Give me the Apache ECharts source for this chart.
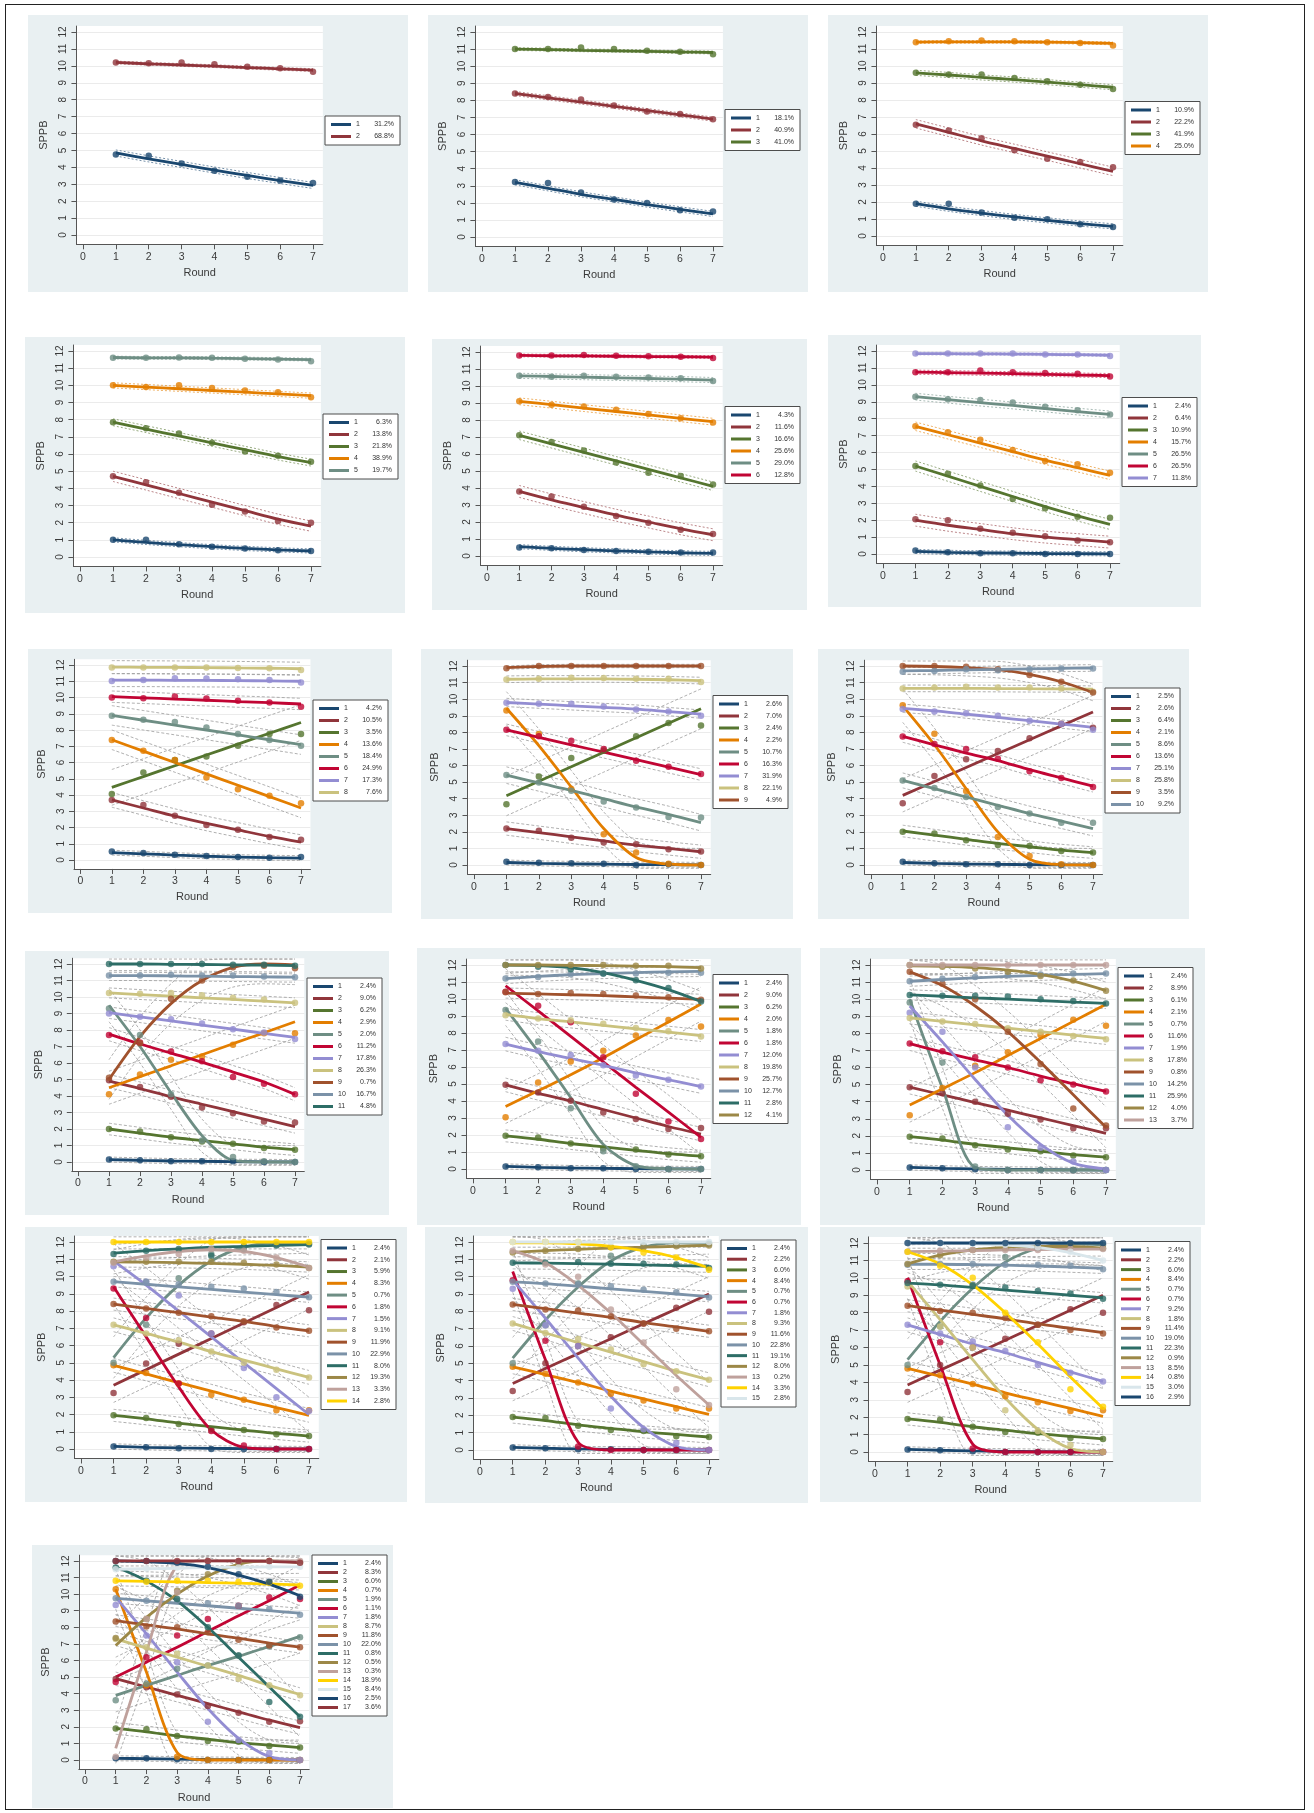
<!DOCTYPE html>
<html><head><meta charset="utf-8">
<script src="https://cdn.jsdelivr.net/npm/echarts@6/dist/echarts.min.js"></script>
<style>
html,body{margin:0;padding:0;background:#fff;}
#frame{position:absolute;left:5px;top:4px;width:1300px;height:1806px;border:1.5px solid #222;box-sizing:border-box;}
.p{position:absolute;}
</style></head><body>
<div id="frame"></div>
<script>
// ---------- data ----------
const rounds = [1,2,3,4,5,6,7];
const xTicks = [0,1,2,3,4,5,6,7];
const yTicks = [0,1,2,3,4,5,6,7,8,9,10,11,12];

const pct1 = ['31.2%','68.8%'];
const obs1 = [[4.76,4.68,4.23,3.8,3.45,3.22,3.08],[10.2,10.15,10.2,10.1,9.95,9.85,9.65]];
const fit1 = [[4.85,4.5,4.17,3.84,3.52,3.22,2.93],[10.2,10.12,10.05,9.98,9.9,9.82,9.75]];
const ci1 = [0.18,0.08];

const pct2 = ['18.1%','40.9%','41.0%'];
const obs2 = [[3.22,3.16,2.6,2.19,1.99,1.56,1.5],[8.4,8.2,8.05,7.7,7.35,7.2,6.9],[11.0,11.0,11.1,11.0,10.9,10.85,10.7]];
const fit2 = [[3.2,2.85,2.5,2.2,1.9,1.62,1.35],[8.4,8.15,7.9,7.65,7.4,7.15,6.9],[11.0,10.97,10.93,10.9,10.87,10.83,10.8]];
const ci2 = [0.15,0.12,0.08];

const pct3 = ['10.9%','22.2%','41.9%','25.0%'];
const obs3 = [[1.9,1.9,1.38,1.08,0.98,0.69,0.53],[6.55,6.2,5.75,5.05,4.55,4.35,4.05],[9.6,9.5,9.5,9.3,9.1,8.9,8.65],[11.4,11.45,11.5,11.45,11.4,11.35,11.2]];
const fit3 = [[1.9,1.6,1.35,1.12,0.92,0.73,0.57],[6.6,6.1,5.6,5.15,4.7,4.25,3.8],[9.6,9.47,9.33,9.2,9.05,8.9,8.75],[11.4,11.42,11.42,11.42,11.4,11.37,11.33]];
const ci3 = [0.15,0.25,0.15,0.08];

const pct4 = ['6.3%','13.8%','21.8%','38.9%','19.7%'];
const obs4 = [[1.0,1.0,0.75,0.6,0.5,0.4,0.35],[4.7,4.35,3.75,3.05,2.65,2.1,2.0],[7.85,7.5,7.2,6.65,6.15,5.9,5.55],[10.0,9.9,10.0,9.85,9.7,9.6,9.3],[11.6,11.6,11.62,11.6,11.55,11.5,11.4]];
const fit4 = [[1.0,0.85,0.72,0.6,0.5,0.42,0.35],[4.7,4.2,3.7,3.2,2.7,2.2,1.8],[7.85,7.45,7.05,6.65,6.25,5.85,5.5],[10.0,9.9,9.8,9.7,9.6,9.5,9.4],[11.62,11.6,11.6,11.58,11.56,11.53,11.5]];
const ci4 = [0.12,0.3,0.2,0.15,0.08];

const pct5 = ['4.3%','11.6%','16.6%','25.6%','29.0%','12.8%'];
const obs5 = [[0.5,0.45,0.35,0.3,0.25,0.2,0.2],[3.8,3.5,2.9,2.35,1.95,1.55,1.3],[7.1,6.7,6.2,5.5,4.9,4.7,4.2],[9.1,8.9,8.8,8.6,8.35,8.1,7.85],[10.6,10.55,10.6,10.55,10.5,10.45,10.3],[11.8,11.8,11.82,11.78,11.75,11.72,11.65]];
const fit5 = [[0.55,0.45,0.37,0.3,0.24,0.19,0.15],[3.8,3.3,2.85,2.4,2.0,1.6,1.25],[7.1,6.6,6.1,5.6,5.1,4.6,4.1],[9.1,8.9,8.7,8.5,8.3,8.1,7.9],[10.6,10.56,10.52,10.48,10.44,10.4,10.35],[11.8,11.78,11.77,11.75,11.73,11.72,11.7]];
const ci5 = [0.12,0.35,0.25,0.2,0.15,0.08];

const pct6 = ['2.4%','6.4%','10.9%','15.7%','26.5%','26.5%','11.8%'];
const obs6 = [[0.2,0.1,0.05,0.05,0.0,0.0,0.0],[2.05,2.0,1.5,1.25,1.05,0.8,0.7],[5.2,4.75,4.05,3.25,2.7,2.2,2.15],[7.55,7.2,6.75,6.15,5.5,5.3,4.8],[9.3,9.15,9.1,8.95,8.7,8.5,8.25],[10.75,10.75,10.85,10.75,10.7,10.65,10.5],[11.85,11.85,11.85,11.85,11.8,11.8,11.7]];
const fit6 = [[0.15,0.1,0.07,0.05,0.03,0.02,0.01],[2.0,1.7,1.45,1.2,1.0,0.85,0.7],[5.2,4.6,4.0,3.4,2.8,2.25,1.75],[7.55,7.05,6.55,6.05,5.55,5.1,4.65],[9.3,9.12,8.95,8.78,8.6,8.42,8.25],[10.75,10.72,10.69,10.66,10.62,10.58,10.55],[11.85,11.84,11.83,11.82,11.8,11.78,11.75]];
const ci6 = [0.12,0.35,0.3,0.25,0.2,0.12,0.08];

const pct7 = ['4.2%','10.5%','3.5%','13.6%','18.4%','24.9%','17.3%','7.6%'];
const obs7 = [[0.53,0.43,0.33,0.25,0.18,0.14,0.18],[3.69,3.38,2.73,2.15,1.86,1.41,1.25],[4.06,5.39,6.15,6.37,7.03,7.75,7.75],[7.38,6.72,6.15,5.08,4.36,3.95,3.5],[8.87,8.63,8.5,8.16,7.75,7.38,7.03],[10.0,9.96,10.06,9.94,9.8,9.69,9.43],[11.02,11.07,11.19,11.17,11.13,11.07,10.92],[11.85,11.85,11.85,11.85,11.82,11.8,11.7]];
const fit7 = [[0.45,0.38,0.3,0.23,0.18,0.14,0.12],[3.7,3.2,2.7,2.25,1.85,1.45,1.1],[4.47,5.13,5.8,6.46,7.13,7.8,8.46],[7.4,6.7,6.0,5.3,4.6,3.9,3.2],[8.9,8.6,8.3,8.0,7.7,7.4,7.1],[10.05,9.98,9.9,9.83,9.75,9.68,9.6],[11.07,11.07,11.06,11.05,11.04,11.02,11.0],[11.87,11.86,11.85,11.84,11.82,11.8,11.77]];
const ci7 = [0.15,0.45,1.1,0.6,0.6,0.35,0.4,0.4];

const pct8 = ['2.6%','7.0%','2.4%','2.2%','10.7%','16.3%','31.9%','22.1%','4.9%'];
const obs8 = [[0.2,0.14,0.1,0.08,0.0,0.04,0.0],[2.2,2.06,1.65,1.35,1.25,0.95,0.81],[3.67,5.34,6.45,6.9,7.76,8.57,8.41],[9.31,7.9,4.58,1.85,0.75,0.08,0.0],[5.42,4.98,4.48,3.83,3.47,2.9,2.86],[8.15,7.76,7.5,7.0,6.29,5.93,5.48],[9.78,9.72,9.72,9.56,9.38,9.25,9.0],[11.19,11.23,11.29,11.27,11.23,11.23,11.03],[11.87,12.0,12.0,12.0,12.0,12.0,12.0]];
const fit8 = [[0.15,0.1,0.07,0.05,0.03,0.02,0.01],[2.2,1.95,1.7,1.45,1.2,1.0,0.8],[4.17,5.05,5.92,6.8,7.67,8.55,9.42],[9.45,7.2,4.7,2.2,0.45,0.05,0.0],[5.42,4.95,4.5,4.0,3.5,3.05,2.55],[8.15,7.7,7.25,6.8,6.35,5.9,5.45],[9.8,9.7,9.6,9.5,9.4,9.25,9.1],[11.2,11.22,11.22,11.22,11.2,11.17,11.12],[11.9,11.97,12.0,12.0,12.0,12.0,12.0]];
const ci8 = [0.15,0.4,1.2,1.0,0.5,0.35,0.25,0.2,0.1];

const pct9 = ['2.5%','2.6%','6.4%','2.1%','8.6%','13.6%','25.1%','25.8%','3.5%','9.2%'];
const obs9 = [[0.2,0.1,0.05,0.05,0.0,0.0,0.0],[3.72,5.37,6.37,6.87,7.64,8.52,8.28],[2.0,1.9,1.5,1.2,1.15,0.85,0.75],[9.63,7.92,4.46,1.69,0.54,0.04,0.0],[5.1,4.65,4.1,3.5,3.1,2.55,2.55],[7.75,7.3,7.0,6.4,5.65,5.25,4.7],[9.4,9.25,9.15,9.0,8.7,8.5,8.15],[10.65,10.7,10.75,10.7,10.7,10.65,10.45],[12.0,12.0,11.95,11.8,11.45,11.05,10.4],[11.65,11.7,11.8,11.75,11.8,11.85,11.85]];
const fit9 = [[0.15,0.1,0.06,0.04,0.02,0.01,0.0],[4.2,5.04,5.88,6.72,7.55,8.39,9.23],[2.05,1.8,1.55,1.3,1.1,0.9,0.75],[9.6,7.25,4.6,2.0,0.35,0.02,0.0],[5.1,4.6,4.1,3.6,3.1,2.65,2.2],[7.75,7.25,6.75,6.3,5.75,5.25,4.75],[9.45,9.3,9.1,8.9,8.7,8.5,8.3],[10.65,10.65,10.65,10.64,10.63,10.62,10.6],[12.0,11.97,11.9,11.78,11.5,11.05,10.4],[11.7,11.73,11.77,11.8,11.83,11.86,11.88]];
const ci9 = [0.15,1.0,0.35,1.0,0.45,0.35,0.25,0.2,0.5,0.2];

const pct10 = ['2.4%','9.0%','6.2%','2.9%','2.0%','11.2%','17.8%','26.3%','0.7%','16.7%','4.8%'];
const obs10 = [[0.15,0.1,0.05,0.05,0.05,0.0,0.0],[4.95,4.55,3.95,3.3,2.95,2.45,2.4],[2.0,1.85,1.5,1.25,1.1,0.85,0.75],[4.1,5.3,6.2,6.4,7.1,7.8,7.8],[9.3,7.7,4.1,1.3,0.3,0.05,0.0],[7.7,7.25,6.7,6.1,5.15,4.75,4.1],[9.0,8.8,8.65,8.4,8.05,7.85,7.45],[10.25,10.2,10.25,10.1,9.95,9.85,9.65],[5.1,7.2,9.9,11.0,11.8,11.9,11.75],[11.3,11.3,11.35,11.3,11.3,11.25,11.2],[12.0,12.0,12.0,12.0,11.95,11.95,11.9]];
const fit10 = [[0.15,0.1,0.06,0.04,0.02,0.01,0.0],[4.9,4.45,3.95,3.5,3.05,2.6,2.15],[2.0,1.75,1.5,1.3,1.1,0.9,0.75],[4.5,5.17,5.83,6.5,7.17,7.83,8.5],[9.5,7.0,4.2,1.6,0.1,0.0,0.0],[7.75,7.15,6.6,6.05,5.45,4.85,4.1],[9.05,8.8,8.55,8.3,8.05,7.8,7.55],[10.25,10.15,10.05,9.95,9.85,9.75,9.65],[5.0,7.6,9.6,11.0,11.8,12.0,11.95],[11.3,11.3,11.28,11.26,11.24,11.22,11.2],[12.0,12.0,11.98,11.97,11.95,11.93,11.9]];
const ci10 = [0.15,0.4,0.35,1.0,1.0,0.4,0.35,0.3,1.2,0.3,0.5];

const pct11 = ['2.4%','9.0%','6.2%','2.0%','1.8%','1.8%','12.0%','19.8%','25.7%','12.7%','2.8%','4.1%'];
const obs11 = [[0.15,0.1,0.05,0.05,0.0,0.0,0.0],[4.95,4.5,4.01,3.33,2.94,2.35,2.41],[1.95,1.85,1.5,1.2,1.15,0.85,0.75],[3.05,5.09,6.32,6.95,7.85,8.77,8.38],[9.35,7.5,3.58,1.04,0.16,0.0,0.0],[10.43,9.61,8.63,6.58,4.42,2.8,1.76],[7.35,6.95,6.7,6.1,5.5,5.25,4.85],[9.05,8.85,8.75,8.55,8.3,8.1,7.8],[10.4,10.3,10.35,10.3,10.2,10.1,9.95],[11.2,11.3,11.45,11.5,11.5,11.55,11.55],[12.0,11.9,11.75,11.5,11.1,10.65,9.85],[12.0,12.0,12.0,12.0,11.95,11.95,11.8]];
const fit11 = [[0.15,0.1,0.06,0.04,0.02,0.01,0.0],[4.95,4.45,4.0,3.5,3.0,2.5,2.05],[1.95,1.75,1.5,1.3,1.1,0.9,0.75],[3.68,4.6,5.55,6.55,7.6,8.65,9.7],[9.45,6.9,4.2,1.45,0.2,0.02,0.0],[10.78,9.3,7.8,6.3,4.8,3.35,1.86],[7.35,6.9,6.5,6.1,5.65,5.25,4.85],[9.1,8.85,8.65,8.45,8.25,8.05,7.85],[10.35,10.3,10.25,10.2,10.12,10.05,9.98],[11.2,11.33,11.43,11.5,11.55,11.6,11.62],[12.0,11.97,11.85,11.55,11.1,10.55,9.85],[12.0,12.0,11.98,11.96,11.93,11.9,11.85]];
const ci11 = [0.15,0.4,0.35,1.0,1.0,1.0,0.4,0.35,0.3,0.3,0.6,0.4];

const pct12 = ['2.4%','8.9%','6.1%','2.1%','0.7%','11.6%','1.9%','17.8%','0.8%','14.2%','25.9%','4.0%','3.7%'];
const obs12 = [[0.15,0.1,0.05,0.0,0.0,0.0,0.0],[4.85,4.5,4.0,3.3,2.95,2.45,2.45],[1.95,1.85,1.45,1.2,1.1,0.85,0.75],[3.2,4.8,6.1,6.9,7.9,8.8,8.45],[9.8,6.3,0.2,0.0,0.0,0.0,0.0],[7.4,6.95,6.6,6.0,5.25,5.0,4.6],[9.2,8.1,6.0,2.5,1.3,0.5,0.0],[8.9,8.7,8.55,8.3,8.1,7.85,7.65],[11.6,10.9,10.0,8.1,6.2,3.6,2.6],[11.05,11.2,11.3,11.4,11.45,11.5,11.5],[10.25,10.2,10.2,10.15,10.0,9.9,9.75],[12.0,11.9,11.8,11.6,11.35,11.1,10.5],[12.0,12.0,12.0,12.0,12.0,12.0,12.0]];
const fit12 = [[0.15,0.1,0.06,0.04,0.02,0.01,0.0],[4.85,4.4,3.95,3.5,3.05,2.6,2.15],[1.95,1.75,1.5,1.3,1.1,0.9,0.75],[3.8,4.75,5.7,6.7,7.7,8.7,9.7],[10.0,4.8,0.15,0.0,0.0,0.0,0.0],[7.4,6.9,6.45,6.0,5.5,5.05,4.6],[9.6,7.5,5.3,3.2,1.5,0.4,0.05],[8.9,8.7,8.5,8.3,8.1,7.9,7.7],[11.6,10.8,9.6,8.1,6.3,4.4,2.5],[11.05,11.15,11.25,11.33,11.4,11.45,11.5],[10.25,10.17,10.08,10.0,9.92,9.83,9.75],[11.95,11.92,11.85,11.7,11.45,11.05,10.5],[12.0,12.0,12.0,12.0,12.0,12.0,12.0]];
const ci12 = [0.15,0.4,0.35,1.0,1.2,0.4,1.0,0.35,1.2,0.3,0.3,0.5,0.5];

const pct13 = ['2.4%','2.1%','5.9%','8.3%','0.7%','1.8%','1.5%','9.1%','11.9%','22.9%','8.0%','19.3%','3.3%','2.8%'];
const obs13 = [[0.15,0.1,0.05,0.0,0.0,0.0,0.0],[3.25,4.95,6.1,6.7,7.35,8.35,8.05],[1.95,1.8,1.45,1.15,1.1,0.85,0.75],[4.85,4.4,3.8,3.15,2.85,2.25,2.25],[5.0,7.2,9.9,11.3,11.6,11.85,11.9],[9.3,7.6,3.8,1.05,0.2,0.0,0.0],[10.6,9.7,8.9,6.7,4.7,3.0,2.2],[7.2,6.7,6.3,5.65,5.0,4.6,4.15],[8.4,8.15,7.9,7.7,7.4,7.05,6.85],[9.7,9.7,9.55,9.4,9.3,9.1,8.8],[11.3,11.5,11.6,11.2,11.75,11.8,11.85],[10.85,10.85,10.85,10.85,10.8,10.7,10.5],[10.8,11.1,11.3,11.6,11.5,11.1,10.5],[12.0,12.0,12.0,12.0,12.0,12.0,12.0]];
const fit13 = [[0.15,0.1,0.06,0.04,0.02,0.01,0.0],[3.7,4.6,5.5,6.4,7.3,8.2,9.1],[1.95,1.75,1.5,1.3,1.1,0.9,0.75],[4.85,4.35,3.85,3.35,2.85,2.4,1.95],[5.3,7.6,9.5,10.9,11.7,11.95,11.9],[9.4,6.5,3.6,1.1,0.1,0.0,0.0],[10.9,9.5,8.0,6.5,5.0,3.5,2.0],[7.2,6.7,6.2,5.65,5.15,4.65,4.15],[8.4,8.15,7.9,7.65,7.4,7.1,6.85],[9.7,9.55,9.4,9.25,9.1,8.95,8.8],[11.35,11.5,11.6,11.7,11.75,11.8,11.85],[10.85,10.83,10.8,10.76,10.71,10.64,10.55],[10.85,11.2,11.45,11.55,11.45,11.1,10.55],[12.0,12.0,12.0,12.0,12.0,12.0,12.0]];
const ci13 = [0.15,1.0,0.35,0.4,1.2,1.0,1.0,0.4,0.35,0.3,0.5,0.3,0.7,0.4];

const pct14 = ['2.4%','2.2%','6.0%','8.4%','0.7%','0.7%','1.8%','9.3%','11.6%','22.8%','19.1%','8.0%','0.2%','3.3%','2.8%'];
const obs14 = [[0.15,0.1,0.05,0.05,0.0,0.0,0.0],[3.4,5.0,6.0,6.5,7.3,8.2,7.97],[1.9,1.85,1.4,1.15,1.1,0.8,0.75],[4.8,4.4,3.9,3.25,2.85,2.4,2.4],[5.0,7.2,9.6,11.2,11.8,11.85,11.9],[9.8,6.3,0.2,0.0,0.0,0.0,0.0],[9.3,7.2,6.0,2.4,1.2,0.4,0.0],[7.3,6.75,6.4,5.8,4.95,4.55,4.05],[8.4,8.1,8.05,7.7,7.3,7.0,6.85],[9.7,9.6,9.55,9.45,9.25,9.1,8.8],[10.8,10.8,10.85,10.75,10.75,10.7,10.5],[11.4,11.5,11.6,11.7,11.7,11.75,11.8],[11.5,10.7,10.0,8.1,6.2,3.5,2.6],[12.0,12.0,12.0,11.7,11.4,11.1,10.4],[12.0,12.0,12.0,12.0,12.0,12.0,12.0]];
const fit14 = [[0.15,0.1,0.06,0.04,0.02,0.01,0.0],[3.84,4.7,5.56,6.42,7.28,8.14,9.0],[1.9,1.7,1.45,1.25,1.05,0.9,0.75],[4.8,4.35,3.9,3.4,2.95,2.5,2.05],[5.3,7.5,9.4,10.9,11.7,11.95,11.9],[10.3,5.2,0.45,0.0,0.0,0.0,0.0],[9.8,7.6,5.3,3.1,1.3,0.2,0.0],[7.3,6.75,6.2,5.65,5.1,4.55,4.05],[8.4,8.15,7.9,7.65,7.35,7.1,6.85],[9.7,9.6,9.45,9.3,9.15,9.0,8.85],[10.8,10.78,10.75,10.72,10.68,10.64,10.6],[11.4,11.5,11.58,11.65,11.7,11.75,11.8],[11.5,10.8,9.5,7.9,6.1,4.3,2.6],[11.95,11.95,11.9,11.75,11.5,11.1,10.5],[12.0,12.0,12.0,12.0,12.0,12.0,12.0]];
const ci14 = [0.15,1.0,0.35,0.4,1.2,1.2,1.0,0.4,0.35,0.3,0.35,0.5,1.3,0.6,0.3];

const pct15 = ['2.4%','2.2%','6.0%','8.4%','0.7%','0.7%','9.2%','1.8%','11.4%','19.0%','22.3%','0.9%','8.5%','0.8%','3.0%','2.9%'];
const obs15 = [[0.15,0.1,0.05,0.0,0.0,0.0,0.0],[3.45,5.0,6.0,6.5,7.3,8.2,8.0],[1.9,1.85,1.45,1.15,1.1,0.8,0.75],[4.8,4.4,3.9,3.2,2.85,2.35,2.4],[5.0,7.2,9.6,11.2,11.7,11.9,11.9],[9.8,6.3,0.2,0.0,0.0,0.0,0.0],[7.3,6.8,6.35,5.8,5.0,4.55,4.05],[9.5,7.2,6.0,2.4,1.2,0.4,0.0],[8.4,8.1,8.0,7.7,7.3,7.0,6.8],[10.75,10.8,10.8,10.75,10.75,10.7,10.5],[9.7,9.6,9.55,9.45,9.25,9.1,8.8],[10.8,11.3,11.6,11.7,11.8,11.8,11.7],[11.5,11.55,11.6,11.6,11.6,11.65,11.65],[11.5,10.7,10.0,8.0,6.3,3.6,2.6],[12.0,12.0,11.95,11.9,11.75,11.5,11.0],[12.0,12.0,12.0,12.0,12.0,12.0,12.0]];
const fit15 = [[0.15,0.1,0.06,0.04,0.02,0.01,0.0],[3.85,4.7,5.56,6.42,7.28,8.14,9.0],[1.9,1.7,1.45,1.25,1.05,0.9,0.75],[4.8,4.35,3.9,3.4,2.95,2.5,2.05],[5.3,7.5,9.4,10.9,11.7,11.95,11.9],[10.0,5.0,0.45,0.0,0.0,0.0,0.0],[7.3,6.75,6.2,5.7,5.15,4.6,4.05],[9.8,7.6,5.3,3.1,1.3,0.2,0.0],[8.4,8.15,7.9,7.65,7.35,7.1,6.85],[10.78,10.78,10.76,10.73,10.68,10.62,10.55],[9.7,9.6,9.45,9.3,9.15,9.0,8.85],[10.8,11.3,11.6,11.75,11.8,11.8,11.7],[11.5,11.53,11.56,11.6,11.62,11.64,11.65],[11.5,10.8,9.6,8.0,6.2,4.3,2.5],[12.0,12.0,11.95,11.88,11.75,11.45,11.0],[12.0,12.0,12.0,12.0,12.0,12.0,12.0]];
const ci15 = [0.15,1.0,0.35,0.4,1.2,1.2,0.4,1.0,0.35,0.3,0.3,1.0,0.4,1.2,0.6,0.3];

const pct16 = ['2.4%','8.3%','6.0%','0.7%','1.9%','1.1%','1.8%','8.7%','11.8%','22.0%','0.8%','0.5%','0.3%','18.9%','8.4%','2.5%','3.6%'];
const obs16 = [[0.1,0.1,0.05,0.0,0.0,0.0,0.0],[4.89,4.39,3.95,3.25,2.85,2.3,2.34],[1.9,1.85,1.45,1.15,1.1,0.85,0.75],[10.3,4.5,0.2,0.0,0.0,0.0,0.0],[3.6,4.6,5.5,5.7,6.3,6.85,7.4],[4.7,6.2,7.5,8.5,9.3,9.8,9.7],[9.35,7.5,5.9,2.3,1.2,0.4,0.0],[7.3,6.8,6.4,5.7,4.9,4.5,3.9],[8.35,8.05,8.0,7.7,7.25,6.9,6.8],[9.75,9.6,9.6,9.45,9.3,9.1,8.75],[11.6,10.8,9.7,8.0,6.3,3.5,2.6],[7.35,8.5,10.2,11.2,11.8,12.0,11.9],[0.2,8.5,10.1,12.0,12.0,12.0,12.0],[10.8,10.75,10.8,10.8,10.75,10.7,10.5],[11.5,11.55,11.6,11.6,11.6,11.65,11.65],[12.0,12.0,11.9,11.65,11.2,10.75,9.85],[12.0,12.0,12.0,12.0,12.0,12.0,11.9]];
const fit16 = [[0.1,0.08,0.05,0.03,0.02,0.01,0.0],[4.9,4.4,3.9,3.4,2.9,2.4,1.95],[1.9,1.7,1.45,1.25,1.05,0.9,0.75],[10.3,5.3,0.45,0.0,0.0,0.0,0.0],[3.9,4.5,5.1,5.7,6.25,6.85,7.45],[5.0,5.9,6.8,7.75,8.7,9.6,10.55],[9.8,7.6,5.3,3.1,1.3,0.2,0.0],[7.3,6.75,6.2,5.65,5.1,4.5,3.95],[8.4,8.15,7.9,7.6,7.35,7.05,6.8],[9.75,9.6,9.45,9.3,9.15,9.0,8.85],[11.65,10.8,9.6,8.0,6.2,4.4,2.6],[6.9,8.6,10.0,11.1,11.8,12.0,11.9],[0.7,6.5,11.7,12.0,12.0,12.0,12.0],[10.8,10.77,10.74,10.7,10.66,10.61,10.55],[11.5,11.53,11.56,11.6,11.62,11.64,11.65],[12.0,11.95,11.85,11.6,11.15,10.6,9.9],[12.0,12.0,12.0,12.0,12.0,11.97,11.9]];
const ci16 = [0.15,0.4,0.35,1.2,1.0,1.2,1.0,0.4,0.35,0.3,1.2,1.2,1.5,0.3,0.4,0.6,0.3];

// ---------- styling / layout ----------
const palette = ['#1a476f','#90353b','#55752f','#e37e00','#6e8e84','#c10534','#938dd2','#cac27e','#a0522d','#7b92a8','#2d6d66','#9c8847','#bfa19c','#ffd200','#d9e6eb'];
const panels = [
  {pct:pct1,obs:obs1,fit:fit1,ci:ci1},{pct:pct2,obs:obs2,fit:fit2,ci:ci2},{pct:pct3,obs:obs3,fit:fit3,ci:ci3},
  {pct:pct4,obs:obs4,fit:fit4,ci:ci4},{pct:pct5,obs:obs5,fit:fit5,ci:ci5},{pct:pct6,obs:obs6,fit:fit6,ci:ci6},
  {pct:pct7,obs:obs7,fit:fit7,ci:ci7},{pct:pct8,obs:obs8,fit:fit8,ci:ci8},{pct:pct9,obs:obs9,fit:fit9,ci:ci9},
  {pct:pct10,obs:obs10,fit:fit10,ci:ci10},{pct:pct11,obs:obs11,fit:fit11,ci:ci11},{pct:pct12,obs:obs12,fit:fit12,ci:ci12},
  {pct:pct13,obs:obs13,fit:fit13,ci:ci13},{pct:pct14,obs:obs14,fit:fit14,ci:ci14},{pct:pct15,obs:obs15,fit:fit15,ci:ci15},
  {pct:pct16,obs:obs16,fit:fit16,ci:ci16}
];
// [x0,y0,x1,y1, tick0 x, tick7 x, y12 y, y0 y, round name gap]
const layout = [
  [28,15,408,292, 55,285,17,220,22],[428,15,808,292, 54,285,17,222,22],[828,15,1208,292, 55,285,17,221,22],
  [25,337,405,613, 55,286,14,220,22],[432,339,807,610, 55,281,13,217,22],[828,335,1201,607, 55,282,16,219,22],
  [28,649,392,913, 52,273,16,211,22],[421,649,793,919, 53,280,17,216,22],[818,649,1189,919, 53,275,17,216,22],
  [25,951,389,1215, 53,270,13,211,22],[417,948,801,1225, 56,284,17,221,22],[820,948,1205,1225, 57,286,17,222,22],
  [25,1227,407,1502, 56,284,15,222,22],[425,1227,808,1503, 55,284,15,223,22],[820,1227,1201,1502, 55,283,16,225,22],
  [32,1545,393,1808, 53,268,16,216,14]
];
const FONT = '"Liberation Sans", Arial, Helvetica, sans-serif';
const TXT = '#3a3a3a';

panels.forEach((P, k) => {
  const [x0,y0,x1,y1,T0,T7,Y12,Y0,ngap] = layout[k];
  const W = x1-x0, H = y1-y0;
  const div = document.createElement('div');
  div.className = 'p';
  div.style.left = x0+'px'; div.style.top = y0+'px';
  div.style.width = W+'px'; div.style.height = H+'px';
  document.body.appendChild(div);
  const chart = echarts.init(div, null, {renderer:'canvas'});
  const u = (T7-T0)/7, v = (Y0-Y12)/12;
  const n = P.fit.length;
  const names = P.fit.map((_, i) => String(i+1));
  const pitch = Math.min(15, 192/Math.max(1,n-1));
  const legH = n*10 + (n-1)*(pitch-10) + 10;
  const legTop = (Y12+Y0)/2 - legH/2;
  const simple = k < 6;
  const series = [];
  P.fit.forEach((f, i) => {
    const col = palette[i % palette.length];
    const hw = P.ci[i];
    [1,-1].forEach(s => {
      series.push({
        type:'line', name:'ci'+i+'_'+s, silent:true, showSymbol:false, smooth:0.3, z:1,
        data: rounds.map((r,j) => [r, Math.min(12.3, Math.max(-0.2, f[j] + s*hw))]),
        lineStyle: simple ? {color:col, width:1, type:[2,2], opacity:0.6}
                          : {color:'#9c9c9c', width:0.8, type:[3,2]}
      });
    });
  });
  P.fit.forEach((f, i) => {
    const col = palette[i % palette.length];
    series.push({
      type:'line', name:names[i], showSymbol:false, smooth:0.3, z:2,
      data: rounds.map((r,j) => [r, f[j]]),
      lineStyle:{color:col, width:2.8}, itemStyle:{color:col}
    });
  });
  P.obs.forEach((o, i) => {
    const col = palette[i % palette.length];
    series.push({
      type:'scatter', name:'obs'+i, symbolSize:6.5, z:3, silent:true,
      data: rounds.map((r,j) => [r, o[j]]),
      itemStyle:{color:col}
    });
  });
  chart.setOption({
    animation:false,
    backgroundColor:'#e9f0f2',
    textStyle:{fontFamily:FONT},
    grid:{left:T0-0.2*u, top:Y12-0.35*v, width:7.5*u, height:12.9*v, show:true, backgroundColor:'#ffffff', borderWidth:0, containLabel:false},
    xAxis:{
      type:'value', min:-0.2, max:7.3,
      name:'Round', nameLocation:'middle', nameGap:ngap,
      nameTextStyle:{fontSize:11, color:TXT, fontFamily:FONT},
      axisLine:{onZero:false, lineStyle:{color:'#555', width:1}},
      axisTick:{show:true, length:5, customValues:xTicks, lineStyle:{color:'#555'}},
      axisLabel:{customValues:xTicks, fontSize:10.5, color:TXT, margin:7, fontFamily:FONT},
      splitLine:{show:false}
    },
    yAxis:{
      type:'value', min:-0.55, max:12.35,
      name:'SPPB', nameLocation:'middle', nameGap:27,
      nameTextStyle:{fontSize:11, color:TXT, fontFamily:FONT},
      axisLine:{show:true, onZero:false, lineStyle:{color:'#555', width:1}},
      axisTick:{show:true, length:5, customValues:yTicks, lineStyle:{color:'#555'}},
      axisLabel:{customValues:yTicks, rotate:90, fontSize:10, color:TXT, margin:8, fontFamily:FONT},
      splitLine:{show:true, customValues:yTicks, lineStyle:{color:'#ebebeb', width:1}}
    },
    legend:{
      orient:'vertical', left:T7+12, top:legTop, data:names, selectedMode:false,
      icon:'rect', itemWidth:20, itemHeight:3, itemGap:pitch-10,
      padding:[5,6], backgroundColor:'#ffffff', borderColor:'#4d4d4d', borderWidth:1,
      formatter: name => '{a|' + name + '}{b|' + P.pct[+name-1] + '}',
      textStyle:{fontFamily:FONT, rich:{
        a:{width:12, fontSize:7, lineHeight:10, color:'#333', fontFamily:FONT},
        b:{width:26, align:'right', fontSize:7, lineHeight:10, color:'#333', fontFamily:FONT}
      }}
    },
    series: series
  });
});
</script>
</body></html>
